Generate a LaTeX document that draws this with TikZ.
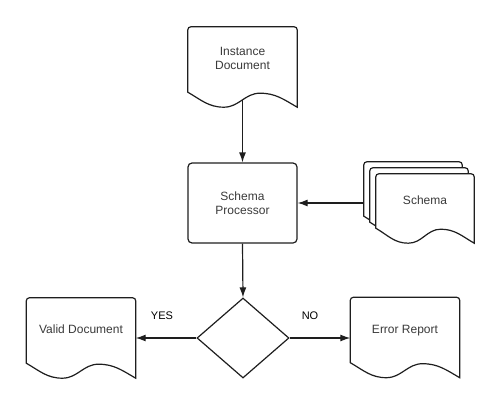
\documentclass[tikz,border=0pt]{standalone}
\usepackage{fontspec}
\setmainfont{Liberation Sans}
\usetikzlibrary{arrows.meta,calc,shapes.geometric,backgrounds}

\definecolor{txtgray}{HTML}{3A3A3A}
\definecolor{linegray}{HTML}{1E1E1E}

\newcommand{\docoutline}[1]{%
  \draw[docline] ([yshift=8pt]#1.south west) [rounded corners=3pt] -- (#1.north west) -- (#1.north east) [sharp corners] -- ([yshift=-7pt]#1.south east)
    to[out=150,in=0] ($(#1.south west)!0.66!(#1.south east)+(0,7pt)$)
    to[out=180,in=0] ($(#1.south west)!0.33!(#1.south east)+(0,-7pt)$)
    to[out=180,in=-30] ([yshift=8pt]#1.south west) -- cycle;}

\begin{document}
\begin{tikzpicture}[x=1pt,y=1pt,
  doc/.style={minimum width=109pt,minimum height=73pt,inner sep=0pt,align=center,text depth=10pt,font=\fontsize{12}{13.5}\selectfont,text=txtgray},
  sheet/.style={doc,minimum width=98pt,minimum height=62pt},
  docline/.style={draw=linegray,line width=1.2pt,fill=white},
  procbox/.style={draw=linegray,line width=1.2pt,rounded corners=4pt,minimum width=109pt,minimum height=80pt,align=center,font=\fontsize{12}{13.5}\selectfont,text=txtgray},
  decision/.style={diamond,draw=linegray,line width=1.2pt,minimum width=92pt,minimum height=80pt,inner sep=0pt},
  arrow/.style={draw=linegray,line width=1.2pt,-{Latex[length=10pt,width=7pt]}},
  answer/.style={font=\fontsize{11}{13}\selectfont,text=black}]
\useasboundingbox (0,0) rectangle (500,405);

\node[doc] (inst) at (242.5,341.5) {Instance\\Document};
\node[procbox] (proc) at (242.5,202) {Schema\\Processor};
\node[decision] (dec) at (243,67) {};
\node[doc] (valid) at (81,70.5) {Valid Document};
\node[doc] (err) at (405,71) {Error Report};
\node[sheet] (schema3) at (413,212) {};
\node[sheet] (schema2) at (419,206) {};
\node[sheet] (schema) at (425,200) {Schema};

\begin{pgfonlayer}{background}
\docoutline{inst}
\docoutline{valid}
\docoutline{err}
\docoutline{schema3}
\docoutline{schema2}
\docoutline{schema}
\end{pgfonlayer}

\draw[arrow] (inst.south) -- (proc.north);
\draw[arrow] (schema3.west |- proc.east) -- (proc.east);
\draw[arrow] (proc.south) -- (dec.north);
\draw[arrow] (dec.west) -- (dec.west -| valid.east);
\draw[arrow] (dec.east) -- (dec.east -| err.west);

\node[answer] (yes) at (162,89) {YES};
\node[answer] (no) at (310,89) {NO};
\end{tikzpicture}
\end{document}
